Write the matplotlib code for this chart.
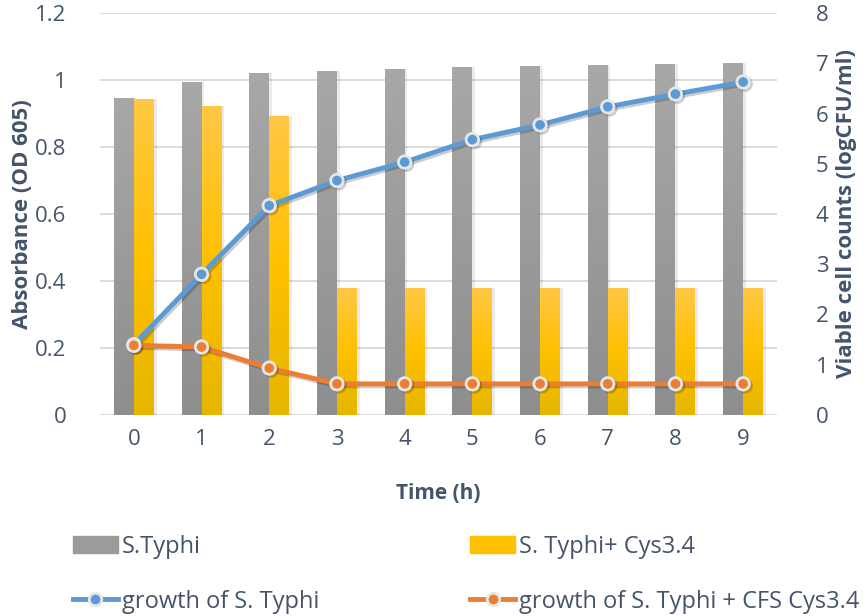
import numpy as np
import matplotlib
matplotlib.use('Agg')
from matplotlib import pyplot as plt
from matplotlib import patheffects as pe
from matplotlib.colors import LinearSegmentedColormap
from matplotlib.patches import Patch
from matplotlib.lines import Line2D

plt.rcParams['font.family'] = ['Open Sans', 'DejaVu Sans']

time_h = [0, 1, 2, 3, 4, 5, 6, 7, 8, 9]
# viable counts (logCFU/ml)
cfu_typhi = [6.31, 6.63, 6.81, 6.85, 6.89, 6.93, 6.95, 6.97, 6.99, 7.0]
cfu_typhi_cys = [6.29, 6.15, 5.95, 2.52, 2.52, 2.52, 2.52, 2.52, 2.52, 2.52]
# absorbance OD 605
od_typhi = [0.21, 0.42, 0.625, 0.70, 0.755, 0.822, 0.866, 0.92, 0.958, 0.994]
od_typhi_cfs = [0.208, 0.203, 0.14, 0.093, 0.093, 0.093, 0.093, 0.093, 0.093, 0.093]

txt_col = '#44546A'

fig = plt.figure(figsize=(8.66, 6.16), dpi=100)
ax = fig.add_axes([100/866, 1-415/616, 677/866, 402/616])
ax2 = ax.twinx()

x = np.arange(len(time_h))
w = 0.295

gray_cm = LinearSegmentedColormap.from_list('g', ['#8e8e8e', '#a8a8a8'])
gold_cm = LinearSegmentedColormap.from_list('y', ['#e5b600', '#ffc000', '#ffc846'])

def gradient_bars(axis, xs, vals, cmap, label):
    bars = axis.bar(xs, vals, w, color='none', edgecolor='none', label=label, zorder=2)
    grad = np.linspace(0, 1, 256).reshape(-1, 1)
    for b in bars:
        x0, y0 = b.get_x(), b.get_y()
        bw, bh = b.get_width(), b.get_height()
        # soft drop shadow
        axis.bar(x0 + bw/2 + 0.04, bh, bw, bottom=0, color='#000000', alpha=0.08, zorder=1.5)
        im = axis.imshow(grad, cmap=cmap, origin='lower', aspect='auto',
                         extent=[x0, x0 + bw, y0, y0 + bh], zorder=2)
        im.set_clip_path(b)
    return bars

ax2.set_ylim(0, 8)
ax.set_ylim(0, 1.2)
ax.set_xlim(-0.5, 9.5)
ax2.set_xlim(-0.5, 9.5)

gradient_bars(ax2, x - w/2, cfu_typhi, gray_cm, 'S.Typhi')
gradient_bars(ax2, x + w/2, cfu_typhi_cys, gold_cm, 'S. Typhi+ Cys3.4')

# put lines above bars
ax.set_zorder(ax2.get_zorder() + 1)
ax.patch.set_visible(False)

shadow = [pe.SimpleLineShadow(offset=(1.5, -1.5), alpha=0.2), pe.Normal()]
ax.plot(x, od_typhi, color='#5B9BD5', lw=3.5, marker='o', ms=9,
        mfc='#5B9BD5', mec='#E6E6E6', mew=2, path_effects=shadow, zorder=3)
ax.plot(x, od_typhi_cfs, color='#ED7D31', lw=3.5, marker='o', ms=9,
        mfc='#ED7D31', mec='#E6E6E6', mew=2, path_effects=shadow, zorder=3)

# gridlines drawn on bar axis, behind everything
for v in np.arange(0, 8.01, 4/3):
    ax2.axhline(v, color='#D9D9D9', lw=1.3, zorder=0)

ax.set_yticks(np.arange(0, 1.21, 0.2))
ax.set_yticklabels(['0', '0.2', '0.4', '0.6', '0.8', '1', '1.2'])
ax2.set_yticks(range(0, 9))
ax.set_xticks(x)
ax.set_xticklabels([str(t) for t in time_h])

for a in (ax, ax2):
    for s in a.spines.values():
        s.set_visible(False)
    a.tick_params(length=0, labelsize=16, colors=txt_col)
ax.tick_params(axis='y', pad=24)
ax2.tick_params(axis='y', pad=28)
ax.tick_params(axis='x', pad=10)
ax2.tick_params(axis='x', bottom=False, labelbottom=False)

ax.set_xlabel('Time (h)', fontsize=15, fontweight='bold', color=txt_col, labelpad=24)
ax.set_ylabel('Absorbance (OD 605)', fontsize=16, fontweight='bold', color=txt_col, labelpad=2)
ax2.set_ylabel('Viable cell counts (logCFU/ml)', fontsize=16, fontweight='bold',
               color=txt_col, labelpad=5)

leg_handles = [
    Patch(color='#9b9b9b'),
    Line2D([], [], color='#5B9BD5', lw=3.5, marker='o', ms=9, mfc='#5B9BD5', mec='#E6E6E6', mew=2),
    Patch(color='#ffc000'),
    Line2D([], [], color='#ED7D31', lw=3.5, marker='o', ms=9, mfc='#ED7D31', mec='#E6E6E6', mew=2),
]
leg_labels = ['S.Typhi', 'growth of S. Typhi', 'S. Typhi+ Cys3.4', 'growth of S. Typhi + CFS Cys3.4']
fig.legend(leg_handles, leg_labels, ncol=2, loc='upper left', bbox_to_anchor=(73/866, 1-535/616),
           frameon=False, fontsize=17, labelcolor=txt_col, handlelength=1.9,
           handletextpad=0.17, columnspacing=6.4, labelspacing=1.3,
           borderpad=0, borderaxespad=0)

fig.savefig('out.png', dpi=100)
